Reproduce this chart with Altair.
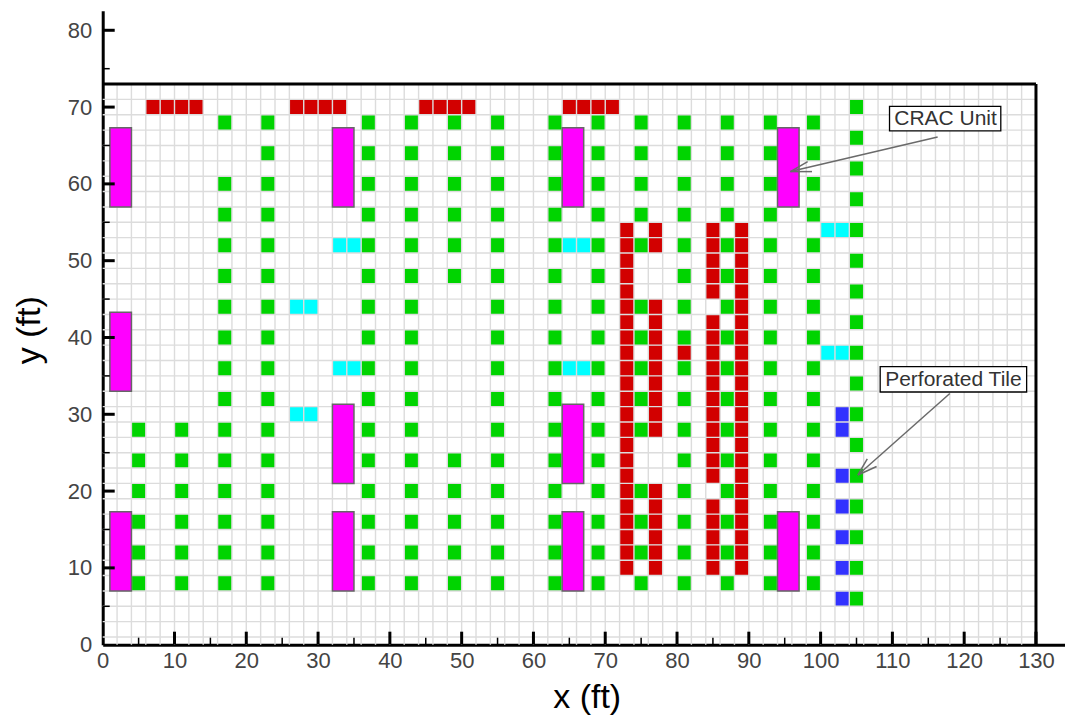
import altair as alt
import pandas as pd

# ---- tile columns: x centre -> y centres ----
green_columns = {
    5: [28, 24, 20, 16, 12, 8],
    11: [28, 24, 20, 16, 12, 8],
    17: [68, 60, 56, 52, 48, 44, 40, 36, 32, 28, 24, 20, 16, 12, 8],
    23: [68, 64, 60, 56, 52, 48, 44, 40, 36, 32, 28, 24, 20, 16, 12, 8],
    37: [68, 64, 60, 56, 52, 48, 44, 40, 36, 32, 28, 24, 20, 16, 12, 8],
    43: [68, 64, 60, 56, 52, 48, 44, 40, 36, 32, 28, 24, 20, 16, 12, 8],
    49: [68, 64, 60, 56, 52, 48, 24, 20, 16, 12, 8],
    55: [68, 64, 60, 56, 52, 48, 44, 40, 36, 32, 28, 24, 20, 16, 12, 8],
    63: [68, 64, 60, 56, 52, 48, 44, 40, 36, 32, 28, 24, 20, 16, 12, 8],
    69: [68, 64, 60, 56, 52, 48, 44, 40, 36, 32, 28, 24, 20, 16, 12, 8],
    75: [68, 64, 60, 56, 52, 44, 40, 36, 32, 28, 20, 16, 12, 8],
    81: [68, 64, 60, 56, 52, 48, 44, 40, 36, 32, 28, 24, 20, 16, 12, 8],
    87: [68, 64, 60, 56, 52, 48, 44, 40, 36, 32, 28, 24, 20, 16, 12, 8],
    93: [68, 64, 60, 56, 52, 48, 44, 40, 36, 32, 28, 24, 20, 16, 12, 8],
    99: [68, 64, 60, 56, 52, 48, 44, 40, 36, 32, 28, 24, 20, 16, 12, 8],
    105: [70, 66, 62, 58, 54, 50, 46, 42, 38, 34, 30, 26, 22, 18, 14, 10, 6],
}
red_columns = {
    7: [70], 9: [70], 11: [70], 13: [70],
    27: [70], 29: [70], 31: [70], 33: [70],
    45: [70], 47: [70], 49: [70], 51: [70],
    65: [70], 67: [70], 69: [70], 71: [70],
    73: [54, 52, 50, 48, 46, 44, 42, 40, 38, 36, 34, 32, 30, 28, 26, 24, 22, 20, 18, 16, 14, 12, 10],
    77: [54, 52, 44, 42, 40, 38, 36, 34, 32, 30, 28, 20, 18, 16, 14, 12, 10],
    81: [38],
    85: [54, 52, 50, 48, 46, 42, 40, 38, 36, 34, 32, 30, 28, 26, 24, 22, 18, 16, 14, 12, 10],
    89: [54, 52, 50, 48, 46, 44, 42, 40, 38, 36, 34, 32, 30, 28, 26, 24, 22, 20, 18, 16, 14, 12, 10],
}
cyan_columns = {
    27: [44, 30], 29: [44, 30],
    33: [52, 36], 35: [52, 36],
    65: [52, 36], 67: [52, 36],
    101: [54, 38], 103: [54, 38],
}
blue_columns = {103: [30, 28, 22, 18, 14, 10, 6]}

# ---- CRAC units ----
crac_x0 = [1, 1, 1, 32, 32, 32, 64, 64, 64, 94, 94]
crac_x1 = [4, 4, 4, 35, 35, 35, 67, 67, 67, 97, 97]
crac_y0 = [57, 33, 7, 57, 21, 7, 57, 21, 7, 57, 7]
crac_y1 = [67.3, 43.3, 17.3, 67.3, 31.3, 17.3, 67.3, 31.3, 17.3, 67.3, 17.3]

# ---- axes ----
x_labels = [0, 10, 20, 30, 40, 50, 60, 70, 80, 90, 100, 110, 120, 130]
y_labels = [0, 10, 20, 30, 40, 50, 60, 70, 80]
x_major = [10, 20, 30, 40, 50, 60, 70, 80, 90, 100, 110, 120, 130]
x_minor = [5, 15, 25, 35, 45, 55, 65, 75, 85, 95, 105, 115, 125]
y_major = [10, 20, 30, 40, 50, 60, 70, 80]
y_minor = [5, 15, 25, 35, 45, 55, 65, 75]
x_grid = [2, 4, 6, 8, 10, 12, 14, 16, 18, 20, 22, 24, 26, 28, 30, 32, 34, 36, 38, 40, 42, 44,
          46, 48, 50, 52, 54, 56, 58, 60, 62, 64, 66, 68, 70, 72, 74, 76, 78, 80, 82, 84, 86,
          88, 90, 92, 94, 96, 98, 100, 102, 104, 106, 108, 110, 112, 114, 116, 118, 120, 122,
          124, 126, 128]
y_grid = [1, 3, 5, 7, 9, 11, 13, 15, 17, 19, 21, 23, 25, 27, 29, 31, 33, 35, 37, 39, 41, 43,
          45, 47, 49, 51, 53, 55, 57, 59, 61, 63, 65, 67, 69, 71]
frame_top = 73
frame_right = 130

# ---- annotations ----
notes_text = ["CRAC Unit", "Perforated Tile"]
notes_x = [117.4, 118.5]
notes_y = [68.5, 34.5]
box_x0 = [109.6, 108.3]
box_x1 = [125.1, 128.7]
box_y0 = [66.9, 32.9]
box_y1 = [70.1, 36.2]
arrow_x0 = [116.3, 98.2, 98.8, 118.0, 106.5, 107.8]
arrow_y0 = [66.1, 62.9, 61.6, 32.7, 24.2, 23.2]
arrow_x1 = [95.8, 95.8, 95.8, 105.2, 105.2, 105.2]
arrow_y1 = [61.6, 61.6, 61.6, 22.1, 22.1, 22.1]

W, H = 962, 634
FONT = "Liberation Sans"
GRID = "#dcdcdc"
sx = alt.Scale(domain=[0, 134], nice=False, zero=False)
sy = alt.Scale(domain=[0, 82.55], nice=False, zero=False)

x_axis = alt.Axis(
    values=x_labels, ticks=False, grid=False, domainWidth=3, domainColor="black",
    labelFont=FONT, labelFontSize=22, labelColor="#444444", labelPadding=6,
    labelFlush=False, labelOverlap=False, labelBound=False,
    title="x (ft)", titleFont=FONT, titleFontSize=34, titleFontWeight="normal",
    titleColor="black", titleX=484, titleY=63, titleAnchor="middle", titleAlign="center",
    titleBaseline="alphabetic",
)
y_axis = alt.Axis(
    values=y_labels, ticks=False, grid=False, domainWidth=3, domainColor="black",
    labelFont=FONT, labelFontSize=22, labelColor="#444444", labelPadding=11,
    labelFlush=False, labelOverlap=False, labelBound=False,
    title="y (ft)", titleFont=FONT, titleFontSize=34, titleFontWeight="normal",
    titleColor="black", titleX=-63, titleY=319, titleAnchor="middle", titleAlign="center",
    titleBaseline="alphabetic", titleAngle=270,
)


def X(f="x"):
    return alt.X(f"{f}:Q", scale=sx, axis=x_axis)


def Y(f="y"):
    return alt.Y(f"{f}:Q", scale=sy, axis=y_axis)


def tiles(columns):
    rows = []
    for cx, ys in columns.items():
        for cy in ys:
            rows.append({"x": cx - 1, "x2": cx + 1, "y": cy - 1, "y2": cy + 1})
    return pd.DataFrame(rows)


layers = []

for cols, colour in [
    (green_columns, "#00d400"),
    (red_columns, "#d20000"),
    (cyan_columns, "#00ffff"),
    (blue_columns, "#3232ff"),
]:
    layers.append(
        alt.Chart(tiles(cols)).mark_rect(fill=colour).encode(
            x=X(), x2="x2:Q", y=Y(), y2="y2:Q"
        )
    )

# grid, over the tiles
layers.append(
    alt.Chart(pd.DataFrame({"x": x_grid, "y": 0, "y2": frame_top})).mark_rule(
        color=GRID, strokeWidth=1.4
    ).encode(x=X(), y=Y(), y2="y2:Q")
)
layers.append(
    alt.Chart(pd.DataFrame({"y": y_grid, "x": 0, "x2": frame_right})).mark_rule(
        color=GRID, strokeWidth=1.4
    ).encode(y=Y(), x=X(), x2="x2:Q")
)

# CRAC units
layers.append(
    alt.Chart(pd.DataFrame({"x": crac_x0, "x2": crac_x1, "y": crac_y0, "y2": crac_y1})).mark_rect(
        fill="#ff00ff", stroke="#666666", strokeWidth=1.5
    ).encode(x=X(), x2="x2:Q", y=Y(), y2="y2:Q")
)

# frame
layers.append(
    alt.Chart(pd.DataFrame({"y": [frame_top], "x": [0], "x2": [frame_right]})).mark_rule(
        color="black", strokeWidth=3
    ).encode(y=Y(), x=X(), x2="x2:Q")
)
layers.append(
    alt.Chart(pd.DataFrame({"x": [frame_right], "y": [0], "y2": [frame_top]})).mark_rule(
        color="black", strokeWidth=3
    ).encode(x=X(), y=Y(), y2="y2:Q")
)

# inward ticks
for values, length, width in [(x_major, 13, 3), (x_minor, 7, 1.5)]:
    layers.append(
        alt.Chart(pd.DataFrame({"x": values})).mark_rule(color="black", strokeWidth=width).encode(
            x=X(), y=alt.value(H), y2=alt.value(H - length)
        )
    )
for values, length, width in [(y_major, 12, 3), (y_minor, 7, 1.5)]:
    layers.append(
        alt.Chart(pd.DataFrame({"y": values})).mark_rule(color="black", strokeWidth=width).encode(
            y=Y(), x=alt.value(0), x2=alt.value(length)
        )
    )

# arrows
layers.append(
    alt.Chart(pd.DataFrame({"x": arrow_x0, "x2": arrow_x1, "y": arrow_y0, "y2": arrow_y1})).mark_rule(
        color="#6a6a6a", strokeWidth=1.5
    ).encode(x=X(), x2="x2:Q", y=Y(), y2="y2:Q")
)

# annotation boxes and text
layers.append(
    alt.Chart(pd.DataFrame({"x": box_x0, "x2": box_x1, "y": box_y0, "y2": box_y1})).mark_rect(
        fill="white", stroke="black", strokeWidth=1.3
    ).encode(x=X(), x2="x2:Q", y=Y(), y2="y2:Q")
)
layers.append(
    alt.Chart(pd.DataFrame({"x": notes_x, "y": notes_y, "t": notes_text})).mark_text(
        font=FONT, fontSize=21, color="#333333", align="center", baseline="middle"
    ).encode(x=X(), y=Y(), text="t:N")
)

chart = (
    alt.layer(*layers)
    .properties(
        width=W,
        height=H,
        autosize=alt.AutoSizeParams(type="none"),
        padding={"left": 94.7, "top": 2.7, "right": 0.3, "bottom": 71},
        background="white",
    )
    .configure_view(stroke=None)
)

chart.save("out.html", embed_options={"renderer": "svg", "actions": False})
